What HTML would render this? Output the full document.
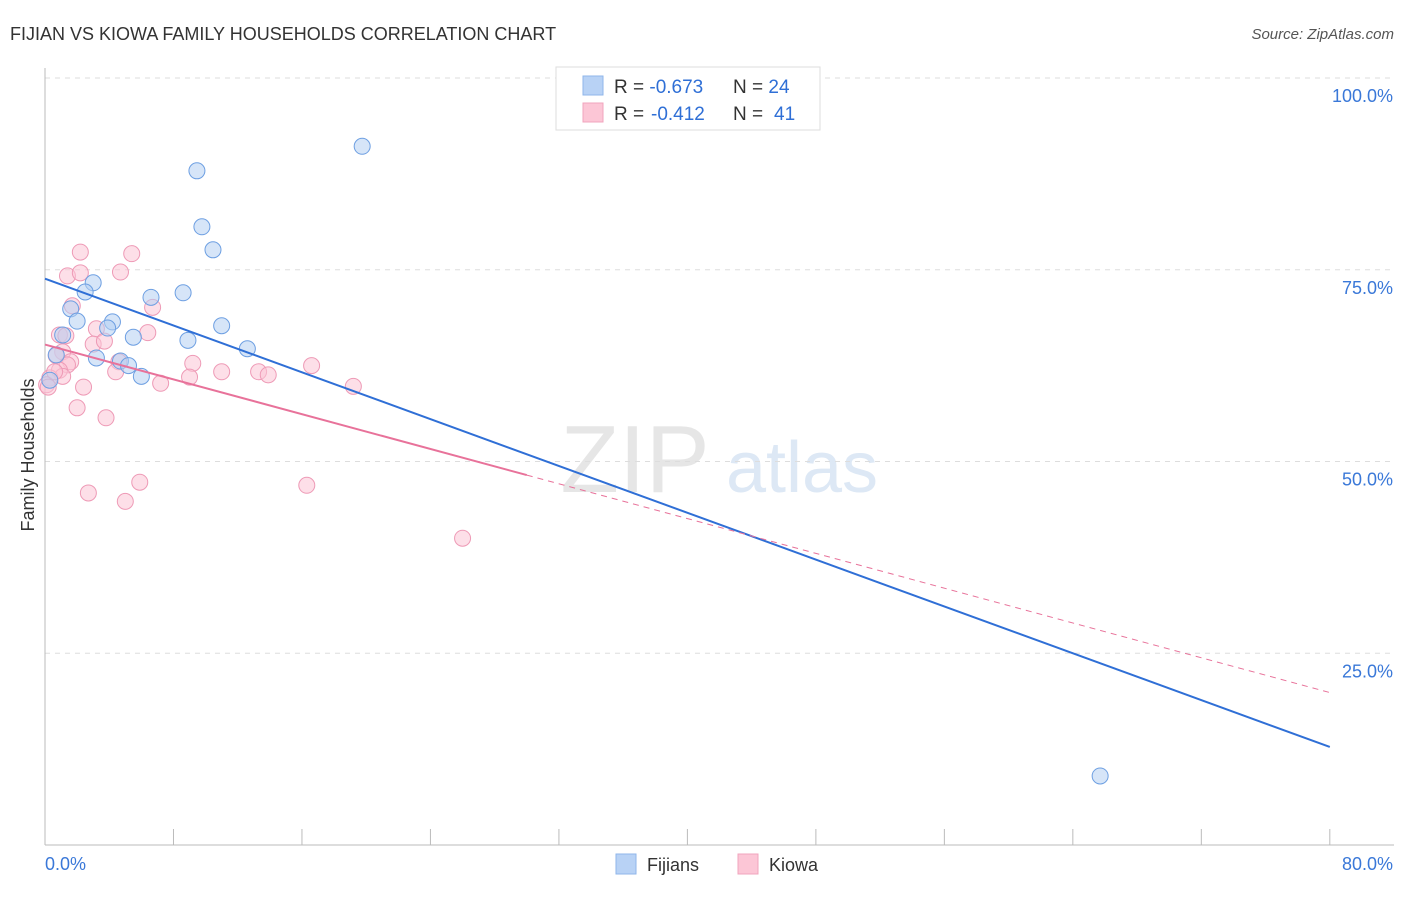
<!DOCTYPE html>
<html><head><meta charset="utf-8"><style>
body{margin:0;background:#fff;font-family:"Liberation Sans",sans-serif;}
svg text{font-family:"Liberation Sans",sans-serif;}
</style></head><body>
<svg id="chart" width="1406" height="892" xmlns="http://www.w3.org/2000/svg">
<text x="10" y="40" font-size="18" fill="#333">FIJIAN VS KIOWA FAMILY HOUSEHOLDS CORRELATION CHART</text>
<text x="1394" y="39" font-size="15" fill="#555" font-style="italic" text-anchor="end">Source: ZipAtlas.com</text>
<text x="635" y="492" font-size="96" fill="#e6e6e6" font-family="Liberation Serif" text-anchor="middle">ZIP</text>
<text x="802" y="492" font-size="72" fill="#dde8f5" text-anchor="middle">atlas</text>
<g id="grid"></g><g id="pts"></g><g id="lines"></g>
<text transform="translate(34,455) rotate(-90)" font-size="18" fill="#333" text-anchor="middle">Family Households</text>
<rect x="556" y="67" width="264" height="63" fill="#fff" stroke="#ddd"/>
<rect x="583" y="76" width="20" height="19" fill="#b8d2f5" stroke="#8fb6ea"/>
<rect x="583" y="103" width="20" height="19" fill="#fcc6d6" stroke="#f1a4bd"/>
<text x="614" y="93" font-size="19" fill="#333">R = <tspan fill="#2f6fd6">-0.673</tspan><tspan x="733">N = </tspan><tspan fill="#2f6fd6">24</tspan></text>
<text x="614" y="120" font-size="19" fill="#333">R = <tspan fill="#2f6fd6" x="651">-0.412</tspan><tspan x="733">N = </tspan><tspan fill="#2f6fd6" x="774">41</tspan></text>
<rect x="616" y="854" width="20" height="20" fill="#b8d2f5" stroke="#8fb6ea"/>
<text x="647" y="871" font-size="18" fill="#333">Fijians</text>
<rect x="738" y="854" width="20" height="20" fill="#fcc6d6" stroke="#f1a4bd"/>
<text x="769" y="871" font-size="18" fill="#333">Kiowa</text>
</svg>
<script>
const fijX=[19.75,9.46,9.77,10.46,3.0,2.5,8.6,6.6,1.6,2.0,4.2,3.9,11.0,1.1,5.5,8.9,12.6,0.7,3.2,4.7,5.2,6.0,65.7,0.3];
const fijY=[91.1,87.9,80.6,77.6,73.3,72.1,72.0,71.4,69.9,68.3,68.2,67.4,67.7,66.5,66.2,65.8,64.7,63.9,63.5,63.1,62.5,61.1,9.0,60.6];
const kioX=[2.2,5.4,1.4,2.2,4.7,1.7,6.7,3.2,6.4,0.9,1.3,3.0,3.7,1.1,0.7,1.6,1.4,4.6,9.2,16.6,0.9,4.4,11.0,13.3,13.9,9.0,1.1,0.3,7.2,19.2,2.4,0.1,2.0,3.8,5.9,16.3,2.7,5.0,26.0,0.2,0.6];
const kioY=[77.3,77.1,74.2,74.6,74.7,70.3,70.1,67.3,66.8,66.5,66.4,65.3,65.7,64.3,63.8,63.0,62.6,63.0,62.8,62.5,61.9,61.7,61.7,61.7,61.3,61.0,61.1,60.9,60.2,59.8,59.7,60.0,57.0,55.7,47.3,46.9,45.9,44.8,40.0,59.7,61.7];
const yTicks=[25,50,75,100];
const xTickLabels=["0.0%","80.0%"];
const NS="http://www.w3.org/2000/svg";
const sx=v=>45+v*16.06, sy=v=>845-v*7.67;
function mk(t,a,p){const e=document.createElementNS(NS,t);for(const k in a)e.setAttribute(k,a[k]);p.appendChild(e);return e;}
const grid=document.getElementById('grid'),svg=document.getElementById('chart');
yTicks.forEach(v=>{
 const l=mk('line',{x1:45,x2:1394,y1:sy(v),y2:sy(v),stroke:'#ddd','stroke-dasharray':'5,5'},grid);
 
 
 const t=mk('text',{x:1393,y:sy(v)+24,'font-size':18,fill:'#3a78d8','text-anchor':'end'},svg);
 t.textContent=v.toFixed(1)+'%';
 
 
});
const ax=mk('line',{x1:45,x2:45,y1:68,y2:845,stroke:'#bbb'},grid);


const bx=mk('line',{x1:45,x2:1394,y1:845,y2:845,stroke:'#bbb'},grid);


for(let i=0;i<=10;i++){const tk=mk('line',{x1:sx(i*8),x2:sx(i*8),y1:829,y2:845,stroke:'#bbb'},grid);
 
 }
[[0,'start',45],[80,'end',1393]].forEach((d,i)=>{const t=mk('text',{x:d[2],y:870,'font-size':18,fill:'#3a78d8','text-anchor':d[1]},svg);t.textContent=xTickLabels[i];
 
 });
const pts=document.getElementById('pts');
function dots(X,Y,f,s,n){X.forEach((x,i)=>{const c=mk('circle',{cx:sx(x),cy:sy(Y[i]),r:8,fill:f,'fill-opacity':0.55,stroke:s,'stroke-width':1},pts);
 
 });}
dots(kioX,kioY,'#fbc5d5','#ee9ab6','kiowa-point');
dots(fijX,fijY,'#b5cff3','#6d9fe2','fijian-point');
function fit(X,Y){const n=X.length,mx=X.reduce((a,b)=>a+b)/n,my=Y.reduce((a,b)=>a+b)/n;let sxy=0,sxx=0;X.forEach((x,i)=>{sxy+=(x-mx)*(Y[i]-my);sxx+=(x-mx)**2});const b=sxy/sxx;return [my-b*mx,b];}
const lines=document.getElementById('lines');
const [fa,fb]=fit(fijX,fijY);
const bl=mk('line',{x1:sx(0),y1:sy(fa),x2:sx(80),y2:sy(fa+fb*80),stroke:'#2f6fd6','stroke-width':2},lines);


const [ka,kb]=fit(kioX,kioY);
const p1=mk('line',{x1:sx(0),y1:sy(ka),x2:sx(30),y2:sy(ka+kb*30),stroke:'#e8729a','stroke-width':2},lines);


const p2=mk('line',{x1:sx(30),y1:sy(ka+kb*30),x2:sx(80),y2:sy(ka+kb*80),stroke:'#e8729a','stroke-width':1,'stroke-dasharray':'6,5'},lines);


</script>
</body></html>
